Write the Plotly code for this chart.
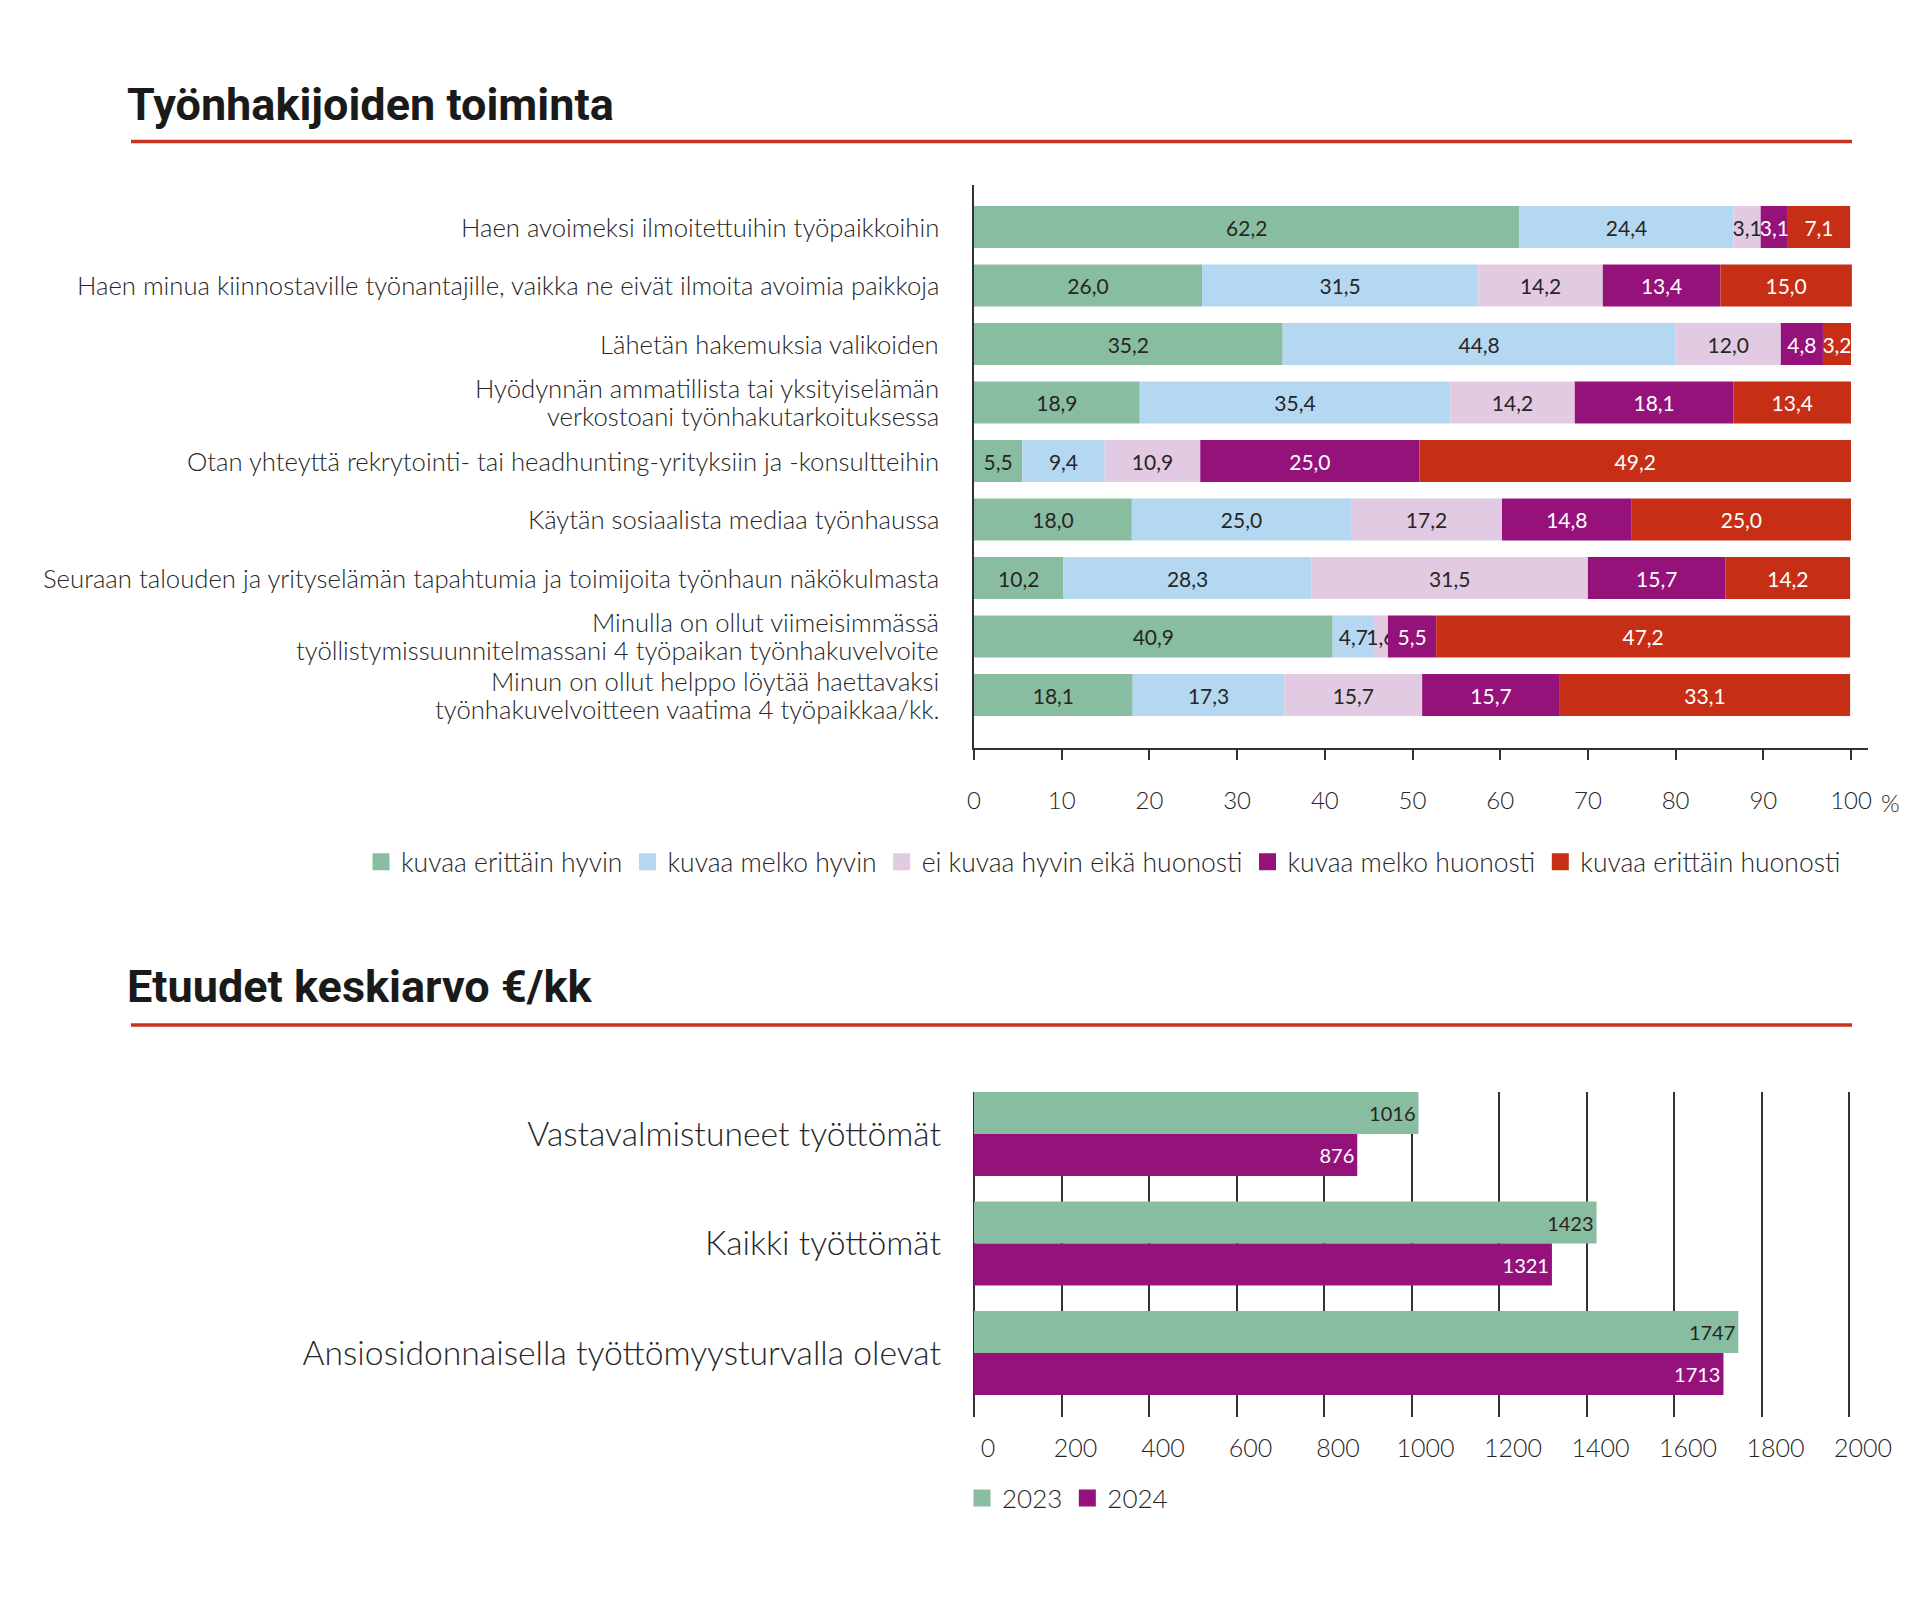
import plotly.graph_objects as go

W, H = 1920, 1602

# ---------------- Data: chart 1 ----------------
statements = [
    "Haen avoimeksi ilmoitettuihin työpaikkoihin",
    "Haen minua kiinnostaville työnantajille, vaikka ne eivät ilmoita avoimia paikkoja",
    "Lähetän hakemuksia valikoiden",
    "Hyödynnän ammatillista tai yksityiselämän<br>verkostoani työnhakutarkoituksessa",
    "Otan yhteyttä rekrytointi- tai headhunting-yrityksiin ja -konsultteihin",
    "Käytän sosiaalista mediaa työnhaussa",
    "Seuraan talouden ja yrityselämän tapahtumia ja toimijoita työnhaun näkökulmasta",
    "Minulla on ollut viimeisimmässä<br>työllistymissuunnitelmassani 4 työpaikan työnhakuvelvoite",
    "Minun on ollut helppo löytää haettavaksi<br>työnhakuvelvoitteen vaatima 4 työpaikkaa/kk.",
]
series_names = [
    "kuvaa erittäin hyvin",
    "kuvaa melko hyvin",
    "ei kuvaa hyvin eikä huonosti",
    "kuvaa melko huonosti",
    "kuvaa erittäin huonosti",
]
v_erittain_hyvin = [62.2, 26.0, 35.2, 18.9, 5.5, 18.0, 10.2, 40.9, 18.1]
v_melko_hyvin = [24.4, 31.5, 44.8, 35.4, 9.4, 25.0, 28.3, 4.7, 17.3]
v_ei_kumpikaan = [3.1, 14.2, 12.0, 14.2, 10.9, 17.2, 31.5, 1.6, 15.7]
v_melko_huonosti = [3.1, 13.4, 4.8, 18.1, 25.0, 14.8, 15.7, 5.5, 15.7]
v_erittain_huonosti = [7.1, 15.0, 3.2, 13.4, 49.2, 25.0, 14.2, 47.2, 33.1]
pct_ticks = [0, 10, 20, 30, 40, 50, 60, 70, 80, 90, 100]
pct_ticktext = ["0", "10", "20", "30", "40", "50", "60", "70", "80", "90", "100"]

# ---------------- Data: chart 2 ----------------
groups = [
    "Vastavalmistuneet työttömät",
    "Kaikki työttömät",
    "Ansiosidonnaisella työttömyysturvalla olevat",
]
years = ["2023", "2024"]
euro_2023 = [1016, 1423, 1747]
euro_2024 = [876, 1321, 1713]
euro_ticks = [0, 200, 400, 600, 800, 1000, 1200, 1400, 1600, 1800, 2000]
euro_ticktext = ["0", "200", "400", "600", "800", "1000", "1200", "1400", "1600", "1800", "2000"]

# ---------------- Style ----------------
GREEN = "#89BDA1"
LBLUE = "#B5D8F2"
PINK = "#E1CAE2"
PURPLE = "#95127A"
RED = "#C62F16"
DARK = "#262626"
AXIS = "#333333"
FONT = "Lato"
TITLE_FONT = "Roboto"

colors1 = [GREEN, LBLUE, PINK, PURPLE, RED]
textcolors1 = [DARK, DARK, DARK, "white", "white"]


def px_x(px):
    return px / W


def px_y(py):
    return 1 - py / H


fig = go.Figure()

# ---- chart 1: stacked 100 % bars (stacking through 'base') ----
series_vals = [v_erittain_hyvin, v_melko_hyvin, v_ei_kumpikaan, v_melko_huonosti, v_erittain_huonosti]
cum = [0.0] * len(statements)
for name, vals, col, tcol in zip(series_names, series_vals, colors1, textcolors1):
    fig.add_trace(go.Bar(
        x=vals, y=statements, base=list(cum), orientation="h",
        name=name, marker=dict(color=col, line=dict(width=0)),
        text=[f"{v:.1f}".replace(".", ",") for v in vals],
        textposition="inside", insidetextanchor="middle", textangle=0,
        constraintext="none",
        textfont=dict(family=FONT, size=21, color=tcol),
        offsetgroup="s1", width=0.72,
        xaxis="x", yaxis="y", showlegend=False,
        hoverinfo="skip",
    ))
    cum = [c + v for c, v in zip(cum, vals)]
# legend entries (empty traces, larger swatches)
for name, col in zip(series_names, colors1):
    fig.add_trace(go.Bar(
        x=[None], y=[None], orientation="h", name=name,
        marker=dict(color=col, line=dict(width=5, color=col)),
        offsetgroup="s1", xaxis="x", yaxis="y", legend="legend",
        hoverinfo="skip",
    ))

# ---- chart 2: grouped bars ----
for yr, vals, col, tcol in zip(years, [euro_2023, euro_2024], [GREEN, PURPLE], [DARK, "white"]):
    fig.add_trace(go.Bar(
        x=vals, y=groups, orientation="h", name=yr,
        marker=dict(color=col, line=dict(width=0)),
        text=[str(v) for v in vals],
        textposition="inside", insidetextanchor="end", textangle=0,
        constraintext="none",
        textfont=dict(family=FONT, size=20, color=tcol),
        offsetgroup="g" + yr,
        xaxis="x2", yaxis="y2", showlegend=False,
        hoverinfo="skip",
    ))
for yr, col in zip(years, [GREEN, PURPLE]):
    fig.add_trace(go.Bar(
        x=[None], y=[None], orientation="h", name=yr,
        marker=dict(color=col, line=dict(width=5, color=col)),
        offsetgroup="g" + yr, xaxis="x2", yaxis="y2", legend="legend2",
        hoverinfo="skip",
    ))

# axis geometry (pixels)
x0_px, x100_px, xend_px = 974, 1851, 1868
c1_top, c1_bot = 185, 748
c2_top, c2_bot = 1092, 1417
x2_0, x2_2000 = 974, 1849
x2_max = 2012
label_right = 941

fig.update_layout(
    width=W, height=H, autosize=False,
    margin=dict(l=0, r=0, t=0, b=0, autoexpand=False),
    paper_bgcolor="white", plot_bgcolor="white",
    barmode="group", bargap=0.233, bargroupgap=0,
    font=dict(family=FONT, color=DARK, size=24),
    xaxis=dict(
        domain=[px_x(x0_px), px_x(xend_px)],
        range=[0, 100 * (xend_px - x0_px) / (x100_px - x0_px)],
        anchor="y", showgrid=False, zeroline=False, automargin=False,
        showline=True, linecolor=AXIS, linewidth=1.5,
        ticks="outside", ticklen=10, tickwidth=1.5, tickcolor=AXIS,
        tickvals=pct_ticks, ticktext=pct_ticktext,
        ticklabelstandoff=20,
        tickfont=dict(family=FONT, size=24, color=DARK, weight=300),
        fixedrange=True,
    ),
    yaxis=dict(
        domain=[px_y(c1_bot), px_y(c1_top)],
        type="category", categoryorder="array", categoryarray=statements,
        range=[8.906, -0.718],
        anchor="x", showgrid=False, zeroline=False, automargin=False,
        showline=True, linecolor=AXIS, linewidth=1.5,
        ticks="", showticklabels=False,
        fixedrange=True,
    ),
    xaxis2=dict(
        domain=[px_x(x2_0), px_x(x2_0 + (x2_2000 - x2_0) * x2_max / 2000)],
        range=[0, x2_max], anchor="y2", automargin=False,
        showgrid=True, gridcolor=AXIS, gridwidth=1.5,
        zeroline=True, zerolinecolor=AXIS, zerolinewidth=1.5,
        showline=False, ticks="",
        tickvals=euro_ticks, ticktext=euro_ticktext,
        ticklabelstandoff=14, ticklabelshift=14,
        tickfont=dict(family=FONT, size=25, color=DARK, weight=300),
        fixedrange=True,
    ),
    yaxis2=dict(
        domain=[px_y(c2_bot), px_y(c2_top)],
        type="category", categoryorder="array", categoryarray=groups,
        range=[2.584, -0.384],
        anchor="x2", showgrid=False, zeroline=False, showline=False,
        automargin=False,
        ticks="", ticklabelstandoff=32,
        tickfont=dict(family=FONT, size=33.7, color=DARK, weight=300),
        fixedrange=True,
    ),
    legend=dict(
        orientation="h", x=px_x(361), xanchor="left",
        y=px_y(862), yanchor="middle",
        font=dict(family=FONT, size=26.5, color=DARK, weight=300),
        traceorder="normal", bgcolor="rgba(0,0,0,0)", borderwidth=0,
    ),
    legend2=dict(
        orientation="h", x=px_x(962), xanchor="left",
        y=px_y(1498), yanchor="middle",
        font=dict(family=FONT, size=26, color=DARK, weight=300),
        traceorder="normal", bgcolor="rgba(0,0,0,0)", borderwidth=0,
    ),
    showlegend=True,
)

# Category labels of chart 1 (one text per line, tight line spacing)
LINE_GAP = 28
for cat in statements:
    lines = cat.split("<br>")
    n = len(lines)
    for k, line in enumerate(lines):
        fig.add_annotation(
            text=line, xref="paper", yref="y", x=px_x(label_right), y=cat,
            xanchor="right", yanchor="middle", showarrow=False,
            yshift=-(k - (n - 1) / 2) * LINE_GAP,
            font=dict(family=FONT, size=25.7, color=DARK, weight=300),
        )

# Titles
fig.add_annotation(
    text="Työnhakijoiden toiminta", xref="paper", yref="paper",
    x=px_x(125), y=px_y(104), xanchor="left", yanchor="middle",
    showarrow=False, font=dict(family=TITLE_FONT, size=45, color="#1a1a1a", weight=700),
)
fig.add_annotation(
    text="Etuudet keskiarvo €/kk", xref="paper", yref="paper",
    x=px_x(125), y=px_y(987), xanchor="left", yanchor="middle",
    showarrow=False, font=dict(family=TITLE_FONT, size=45, color="#1a1a1a", weight=700),
)
# percent sign after 100
fig.add_annotation(
    text="%", xref="x", yref="paper", x=100, y=px_y(802),
    xanchor="left", yanchor="middle", xshift=28, showarrow=False,
    font=dict(family=FONT, size=24, color=DARK, weight=300),
)

# Red rules under titles
for yy in (141.5, 1025):
    fig.add_shape(type="line", xref="paper", yref="paper",
                  x0=px_x(131), x1=px_x(1852), y0=px_y(yy), y1=px_y(yy),
                  line=dict(color="#C8321E", width=3.5))

fig.write_html(
    "out.html",
    config={"displayModeBar": False},
    post_script="document.body.style.margin='0';document.body.style.padding='0';",
)
